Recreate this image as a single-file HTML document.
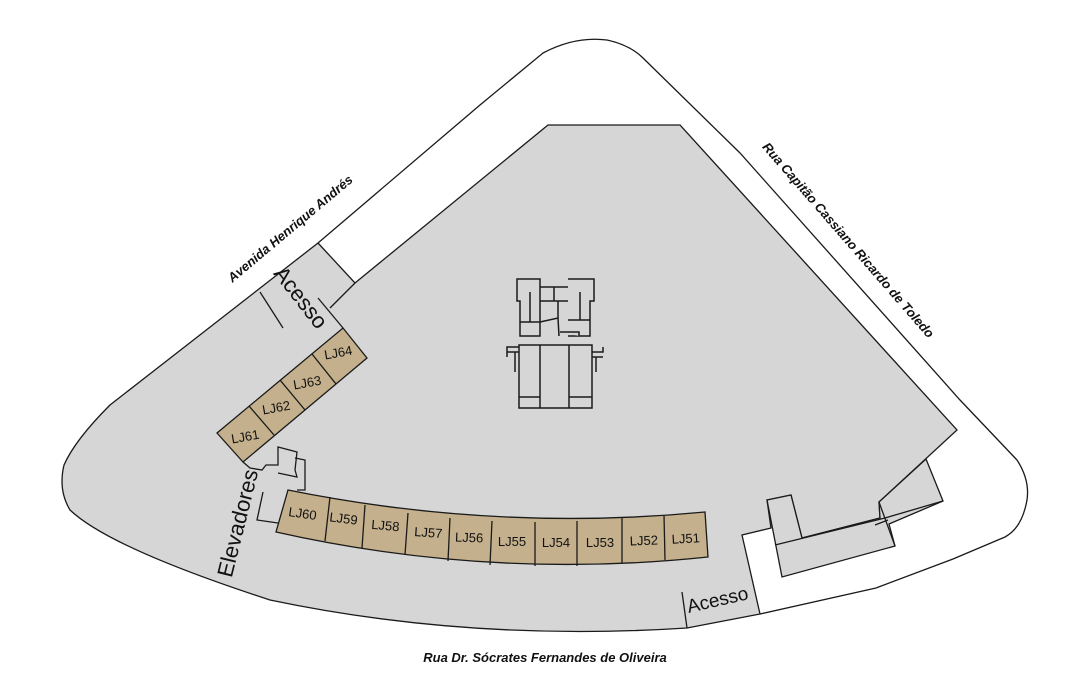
<!DOCTYPE html>
<html><head><meta charset="utf-8"><style>
html,body{margin:0;padding:0;background:#fff;}
svg{display:block;}
text{font-family:"Liberation Sans","DejaVu Sans",sans-serif;fill:#111;}
.st{font-size:13px;}
.rd{font-size:13px;font-style:italic;font-weight:bold;}
</style></head><body>
<svg width="1080" height="691" viewBox="0 0 1080 691" xmlns="http://www.w3.org/2000/svg">
<g stroke="#1a1a1a" stroke-width="1.3" fill="none">
<!-- outer street line -->
<path d="M318,243 L480,105 L543,53 Q575,36 607,40 Q630,45 643,58 L740,153 L960,400 L1017,460 Q1030,480 1027,500 Q1022,528 1005,537 L953,559 L876,588 L760,614"/>
<!-- main gray -->
<path fill="#d6d6d6" d="M318,243 L355,283 L548,125 L680,125 L957,430 L879,502 L880,518 L802,538 L791,495 L767,500 L771,528 L742,535 L760,614 L687,628 Q470,642 270,600 Q110,548 70,510 Q58,490 64,465 Q75,440 110,405 Z"/>
<!-- annex -->
<path fill="#d6d6d6" d="M879,502 L926,459 L943,501 L889,524 L895,546 L782,577 L767,500 L791,495 L802,538 L880,518 Z"/>
<path d="M775,545 L885,518 L943,501"/>
<path d="M879,502 L895,546"/>
<path d="M875,525 L888,520"/>
<!-- access strips -->
<path d="M330,308 L355,283"/>
<path d="M318,298 L343,328"/>
<path d="M260,292 L283,328"/>
<path d="M682,592 L687,628"/>
<!-- elevators -->
<path d="M243,462 L250,468 L262,470 L266,465 L278,465 L278,447 L297,452 L295,470 L297,477 L278,473"/>
<path d="M295,458 L305,460 L305,490 L297,490"/>
<path d="M263,492 L257,520 L278,523"/>
<!-- stores 61-64 -->
<path fill="#c4b08c" d="M217,433 L343,328 L367,358 L243,462 Z"/>
<path d="M249,406 L274,435 M280,380 L305,410 M312,354 L336,384"/>
<!-- stores 51-60 -->
<path fill="#c4b08c" d="M288,490 Q496,532 705,512 L708,557 Q490,580 276,532 Z"/>
<path d="M330,497 L325,541 M365,505 L362,548 M408,513 L405,555 M450,518 L448,561 M492,521 L490,565 M535,522 L535,566 M577,521 L577,566 M622,518 L622,563 M664,515 L665,560"/>
<!-- central building -->
<g stroke-width="1.5" fill="#d6d6d6">
<path d="M517,279 L540,279 L540,336 L520,336 L520,301 L517,301 Z"/>
<path d="M568,279 L594,279 L594,301 L590,301 L590,336 L568,336"/>
<path d="M540,287 L568,287 M540,301 L568,301 M540,322 L558,318 L559,336 M554,287 L554,301 M558,301 L558,318 M560,332 L579,332 L579,336 M530,292 L530,322 M580,292 L580,320 M520,322 L540,322 M568,320 L590,320"/>
<rect x="519" y="345" width="73" height="63"/>
<path d="M540,345 L540,408 M569,345 L569,408 M519,397 L540,397 M569,397 L592,397"/>
<path d="M507,357 L507,347 L519,347 M507,352 L519,352 M515,352 L515,372 M592,352 L603,352 L603,347 M592,357 L603,357 M596,357 L596,372"/>
</g>
</g>
<!-- labels -->
<text class="st" transform="translate(339,357) rotate(-10)" text-anchor="middle">LJ64</text>
<text class="st" transform="translate(308,387) rotate(-10)" text-anchor="middle">LJ63</text>
<text class="st" transform="translate(277,412) rotate(-10)" text-anchor="middle">LJ62</text>
<text class="st" transform="translate(246,441) rotate(-10)" text-anchor="middle">LJ61</text>
<text class="st" transform="translate(302,518) rotate(8)" text-anchor="middle">LJ60</text>
<text class="st" transform="translate(343,523) rotate(7)" text-anchor="middle">LJ59</text>
<text class="st" transform="translate(385,530) rotate(5)" text-anchor="middle">LJ58</text>
<text class="st" transform="translate(428,537) rotate(4)" text-anchor="middle">LJ57</text>
<text class="st" transform="translate(469,542) rotate(2)" text-anchor="middle">LJ56</text>
<text class="st" transform="translate(512,546)" text-anchor="middle">LJ55</text>
<text class="st" transform="translate(556,547)" text-anchor="middle">LJ54</text>
<text class="st" transform="translate(600,547)" text-anchor="middle">LJ53</text>
<text class="st" transform="translate(644,545) rotate(-2)" text-anchor="middle">LJ52</text>
<text class="st" transform="translate(686,543) rotate(-3)" text-anchor="middle">LJ51</text>
<text transform="translate(295,302) rotate(52)" text-anchor="middle" font-size="22">Acesso</text>
<text transform="translate(245,525) rotate(-76)" text-anchor="middle" font-size="22">Elevadores</text>
<text transform="translate(719,606) rotate(-13)" text-anchor="middle" font-size="19">Acesso</text>
<text class="rd" transform="translate(293,232) rotate(-40)" text-anchor="middle">Avenida Henrique Andrés</text>
<text class="rd" transform="translate(845,243) rotate(49)" text-anchor="middle">Rua Capitão Cassiano Ricardo de Toledo</text>
<text class="rd" transform="translate(545,662)" text-anchor="middle">Rua Dr. Sócrates Fernandes de Oliveira</text>
</svg>
</body></html>
